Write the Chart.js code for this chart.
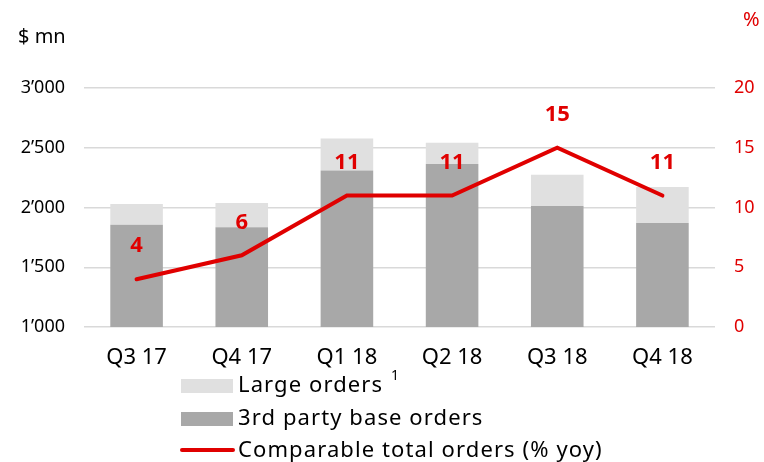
<!DOCTYPE html>
<html>
<head>
<meta charset="utf-8">
<script src="https://cdn.jsdelivr.net/npm/chart.js@4"></script>
<style>
  html, body { margin: 0; padding: 0; background: #ffffff; }
  #wrap { width: 764px; height: 462px; position: relative; }
</style>
</head>
<body>
<div id="wrap"><canvas id="c" width="764" height="462"></canvas></div>
<script>
const categories = ["Q3 17", "Q4 17", "Q1 18", "Q2 18", "Q3 18", "Q4 18"];
const baseOrders = [1855, 1835, 2310, 2365, 2013, 1870];
const largeOrders = [175, 203, 268, 176, 261, 302];
const comparableGrowth = [4, 6, 11, 11, 15, 11];
const leftTicks = [1000, 1500, 2000, 2500, 3000];
const rightTicks = [0, 5, 10, 15, 20];

const FONT = "'Noto Sans', 'DejaVu Sans', sans-serif";
const RED = "#e00000";

function fmtThousands(v) {
  const s = String(Math.round(v));
  return s.replace(/\B(?=(\d{3})+(?!\d))/g, "\u2019");
}

const overlay = {
  id: "overlay",
  afterDatasetsDraw(chart) {
    const ctx = chart.ctx;
    const meta = chart.getDatasetMeta(0);
    ctx.save();
    ctx.fillStyle = RED;
    ctx.font = "bold 22px " + FONT;
    ctx.textAlign = "center";
    ctx.textBaseline = "middle";
    meta.data.forEach((pt, i) => {
      ctx.fillText(String(comparableGrowth[i]), pt.x, pt.y - 33);
    });
    ctx.restore();
  },
  afterDraw(chart) {
    const ctx = chart.ctx;
    const ds = chart.data.datasets;
    ctx.save();
    // axis titles
    ctx.textBaseline = "middle";
    ctx.textAlign = "left";
    ctx.font = "20px " + FONT;
    ctx.fillStyle = "#000000";
    ctx.fillText("$ mn", 18, 37);
    ctx.fillStyle = RED;
    ctx.fillText("%", 743, 20);

    // legend
    const bx = 181, bw = 52, tx = 238;
    ctx.font = "22px " + FONT;
    if ("letterSpacing" in ctx) ctx.letterSpacing = "1.1px";
    // row 1: large orders
    ctx.fillStyle = ds[2].backgroundColor;
    ctx.fillRect(bx, 379, bw, 14);
    ctx.fillStyle = "#000000";
    ctx.fillText(ds[2].label, tx, 386);
    const w1 = ctx.measureText(ds[2].label).width;
    ctx.font = "14px " + FONT;
    ctx.fillText("1", tx + w1 + 8, 376);
    // row 2: base orders
    ctx.font = "22px " + FONT;
    ctx.fillStyle = ds[1].backgroundColor;
    ctx.fillRect(bx, 412, bw, 14);
    ctx.fillStyle = "#000000";
    ctx.fillText(ds[1].label, tx, 419);
    // row 3: line
    ctx.strokeStyle = RED;
    ctx.lineWidth = 4;
    ctx.lineCap = "round";
    ctx.beginPath();
    ctx.moveTo(bx + 1, 450);
    ctx.lineTo(bx + bw, 450);
    ctx.stroke();
    ctx.fillStyle = "#000000";
    ctx.fillText(ds[0].label, tx, 451);
    ctx.restore();
  }
};

new Chart(document.getElementById("c"), {
  type: "bar",
  data: {
    labels: categories,
    datasets: [
      {
        type: "line",
        label: "Comparable total orders (% yoy)",
        data: comparableGrowth,
        yAxisID: "y1",
        borderColor: RED,
        backgroundColor: RED,
        borderWidth: 4,
        pointRadius: 0,
        borderCapStyle: "round",
        borderJoinStyle: "miter",
        tension: 0,
        order: 0
      },
      {
        label: "3rd party base orders",
        data: baseOrders,
        backgroundColor: "#a8a8a8",
        yAxisID: "y",
        stack: "s",
        barPercentage: 0.5,
        categoryPercentage: 1.0,
        order: 1
      },
      {
        label: "Large orders",
        data: largeOrders,
        backgroundColor: "#e0e0e0",
        yAxisID: "y",
        stack: "s",
        barPercentage: 0.5,
        categoryPercentage: 1.0,
        order: 2
      }
    ]
  },
  options: {
    responsive: false,
    animation: false,
    devicePixelRatio: 1,
    layout: { padding: { top: 88, left: 0, right: 0, bottom: 0 } },
    plugins: {
      legend: { display: false },
      tooltip: { enabled: false },
      title: { display: false }
    },
    scales: {
      x: {
        stacked: true,
        grid: { display: false, drawTicks: false },
        border: { display: false },
        ticks: { color: "#000000", font: { family: FONT, size: 22 }, padding: 18, maxRotation: 0 },
        afterFit(s) { s.height = 135; }
      },
      y: {
        stacked: true,
        position: "left",
        min: 1000,
        max: 3000,
        afterBuildTicks(s) { s.ticks = leftTicks.map(v => ({ value: v })); },
        grid: { color: "#d9d9d9", lineWidth: 1.5, drawTicks: false },
        border: { display: false },
        ticks: {
          color: "#000000",
          font: { family: FONT, size: 18 },
          padding: 19,
          callback: v => fmtThousands(v)
        },
        afterFit(s) { s.width = 84; }
      },
      y1: {
        position: "right",
        min: 0,
        max: 20,
        afterBuildTicks(s) { s.ticks = rightTicks.map(v => ({ value: v })); },
        grid: { display: false, drawTicks: false },
        border: { display: false },
        ticks: { color: RED, font: { family: FONT, size: 18 }, padding: 19 },
        afterFit(s) { s.width = 49; }
      }
    }
  },
  plugins: [overlay]
});
</script>
</body>
</html>
